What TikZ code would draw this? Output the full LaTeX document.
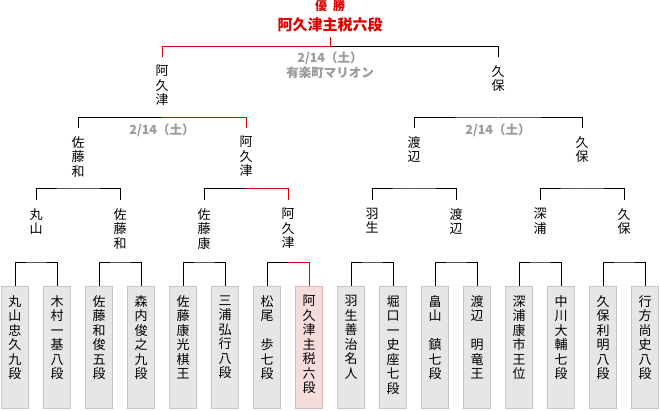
\documentclass[tikz,border=0pt]{standalone}
\usepackage{fontspec}
\usepackage{xcolor}
\usepackage{tikz}
\newfontfamily\jpfont{Noto Sans CJK JP}
\definecolor{winred}{HTML}{DD0000}
\definecolor{dategray}{HTML}{999999}
\definecolor{boxgray}{HTML}{E6E6E6}
\definecolor{boxedge}{HTML}{C8C8C8}
\definecolor{winpink}{HTML}{F5DCDC}
\definecolor{winedge}{HTML}{DDB8B8}
\newcommand{\bracketfont}{\jpfont\fontsize{13}{14.5}\selectfont}
\newcommand{\datefont}{\jpfont\bfseries\fontsize{12.5}{15}\selectfont}
\newcommand{\namecol}[1]{\parbox[t][104pt][t]{14pt}{\centering #1}}

\begin{document}
\begin{tikzpicture}[x=1pt,y=-1pt,font=\bracketfont,
  playerbox/.style={draw=boxedge,fill=boxgray,anchor=north,inner xsep=6.5pt,inner ysep=9pt,line width=1pt},
  winnerbox/.style={playerbox,draw=winedge,fill=winpink},
  namelabel/.style={align=center,anchor=north,inner xsep=0pt,inner ysep=8pt},
  datelabel/.style={font=\datefont,text=dategray,inner sep=0pt},
  line/.style={line width=1pt,color=black},
  redline/.style={line width=1pt,color=winred}]
\useasboundingbox (0,0) rectangle (660,411);

% players
\node[playerbox] (p1) at (15,286) {\namecol{丸\\山\\忠\\久\\九\\段}};
\node[playerbox] (p2) at (57,286) {\namecol{木\\村\\一\\基\\八\\段}};
\node[playerbox] (p3) at (99,286) {\namecol{佐\\藤\\和\\俊\\五\\段}};
\node[playerbox] (p4) at (141,286) {\namecol{森\\内\\俊\\之\\九\\段}};
\node[playerbox] (p5) at (183,286) {\namecol{佐\\藤\\康\\光\\棋\\王}};
\node[playerbox] (p6) at (225,286) {\namecol{三\\浦\\弘\\行\\八\\段}};
\node[playerbox] (p7) at (267,286) {\namecol{松\\尾\\　\\歩\\七\\段}};
\node[winnerbox] (p8) at (309,286) {\namecol{阿\\久\\津\\主\\税\\六\\段}};
\node[playerbox] (p9) at (351,286) {\namecol{羽\\生\\善\\治\\名\\人}};
\node[playerbox] (p10) at (393,286) {\namecol{堀\\口\\一\\史\\座\\七\\段}};
\node[playerbox] (p11) at (435,286) {\namecol{畠\\山\\　\\鎮\\七\\段}};
\node[playerbox] (p12) at (477,286) {\namecol{渡\\辺\\　\\明\\竜\\王}};
\node[playerbox] (p13) at (519,286) {\namecol{深\\浦\\康\\市\\王\\位}};
\node[playerbox] (p14) at (561,286) {\namecol{中\\川\\大\\輔\\七\\段}};
\node[playerbox] (p15) at (603,286) {\namecol{久\\保\\利\\明\\八\\段}};
\node[playerbox] (p16) at (645,286) {\namecol{行\\方\\尚\\史\\八\\段}};

% first round winners
\node[namelabel] (w1) at (36,200) {丸\\山};
\node[namelabel] (w2) at (120,200) {佐\\藤\\和};
\node[namelabel] (w3) at (204,200) {佐\\藤\\康};
\node[namelabel] (w4) at (288,200) {阿\\久\\津};
\node[namelabel] (w5) at (372,200) {羽\\生};
\node[namelabel] (w6) at (456,200) {渡\\辺};
\node[namelabel] (w7) at (540,200) {深\\浦};
\node[namelabel] (w8) at (624,200) {久\\保};

% second round winners
\node[namelabel] (s1) at (78,128) {佐\\藤\\和};
\node[namelabel] (s2) at (246,128) {阿\\久\\津};
\node[namelabel] (s3) at (414,128) {渡\\辺};
\node[namelabel] (s4) at (582,128) {久\\保};

% finalists and champion
\node[namelabel] (f1) at (162,57) {阿\\久\\津};
\node[namelabel] (f2) at (498,57) {久\\保};
\node[anchor=south,inner ysep=5pt,text=winred,font=\jpfont\bfseries\fontsize{15}{17}\selectfont] (champ) at (330,37) {阿久津主税六段};
\node[text=winred,inner sep=0pt,font=\jpfont\bfseries\fontsize{12}{14}\selectfont] (yusho) at (330,6) {優\hspace{6pt}勝};

% dates
\node[datelabel] (date1) at (330,58) {2/14（土）};
\node[datelabel] (venue) at (330,73) {有楽町マリオン};
\node[datelabel] (date2) at (162,130) {2/14（土）};
\node[datelabel] (date3) at (498,130) {2/14（土）};

% bracket joints
\coordinate (m1) at (36,262);
\coordinate (m2) at (120,262);
\coordinate (m3) at (204,262);
\coordinate (m4) at (288,262);
\coordinate (m5) at (372,262);
\coordinate (m6) at (456,262);
\coordinate (m7) at (540,262);
\coordinate (m8) at (624,262);
\coordinate (q1) at (78,189);
\coordinate (q2) at (246,189);
\coordinate (q3) at (414,189);
\coordinate (q4) at (582,189);
\coordinate (h1) at (162,118);
\coordinate (h2) at (498,118);
\coordinate (top) at (330,47);

\draw[line] (p1.north) |- (m1) -| (p2.north);
\draw[line] (p3.north) |- (m2) -| (p4.north);
\draw[line] (p5.north) |- (m3) -| (p6.north);
\draw[line] (p7.north) |- (m4);
\draw[redline] (m4) -| (p8.north);
\draw[line] (p9.north) |- (m5) -| (p10.north);
\draw[line] (p11.north) |- (m6) -| (p12.north);
\draw[line] (p13.north) |- (m7) -| (p14.north);
\draw[line] (p15.north) |- (m8) -| (p16.north);

\draw[line] (w1.north) |- (q1) -| (w2.north);
\draw[line] (w3.north) |- (q2);
\draw[redline] (q2) -| (w4.north);
\draw[line] (w5.north) |- (q3) -| (w6.north);
\draw[line] (w7.north) |- (q4) -| (w8.north);

\draw[line] (s1.north) |- (h1);
\draw[redline] (h1) -| (s2.north);
\draw[line] (s3.north) |- (h2) -| (s4.north);

\draw[redline] (f1.north) |- (top);
\draw[line] (top) -| (f2.north);
\draw[redline] (top) -- (champ.south);
\end{tikzpicture}
\end{document}
